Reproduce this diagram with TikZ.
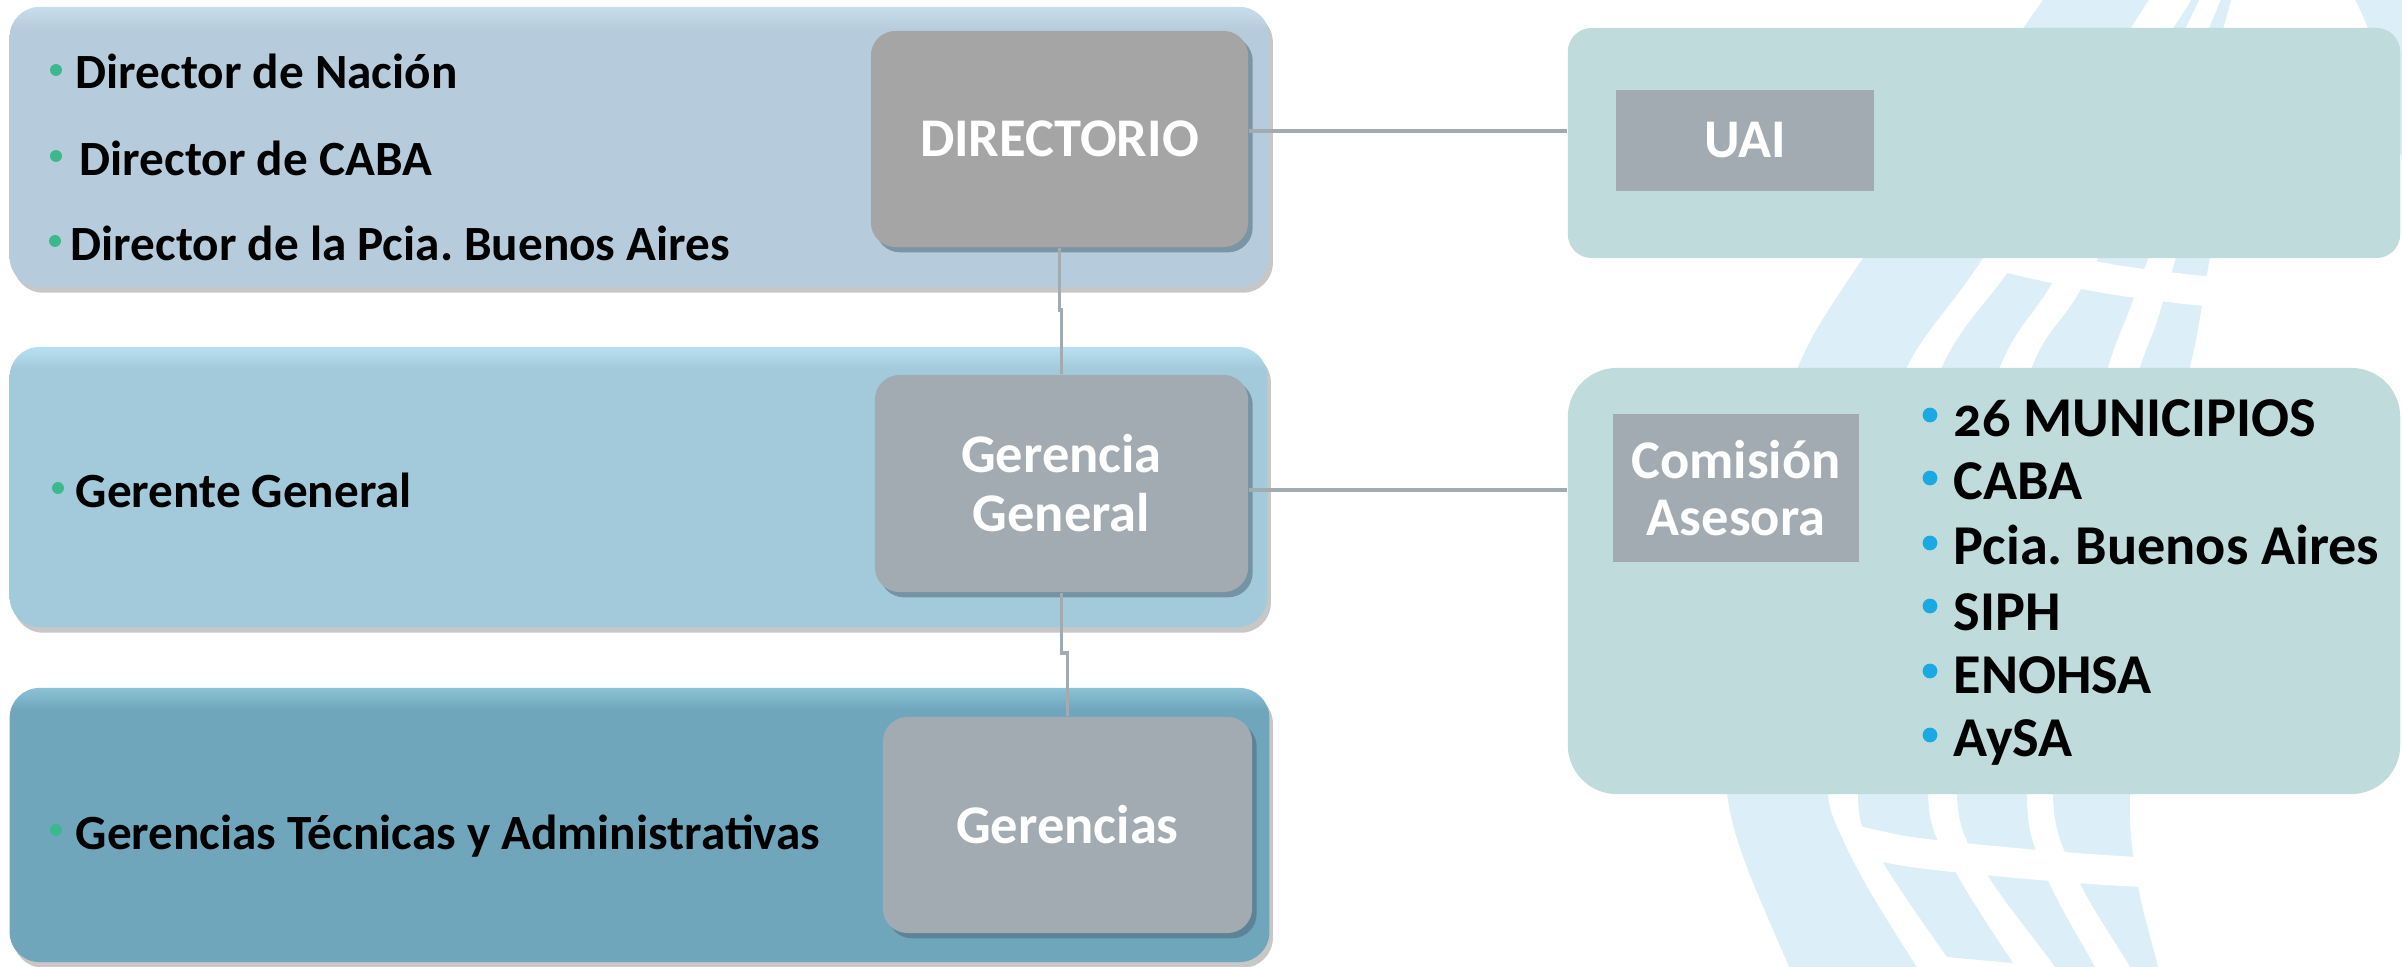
\documentclass[tikz,border=0pt]{standalone}
\usepackage{fontspec}
\setmainfont{Carlito}
\frenchspacing
\usetikzlibrary{shadows,calc}
\definecolor{bandT}{HTML}{B6CCDC}
\definecolor{bandTl}{HTML}{C8DEEC}
\definecolor{bandM}{HTML}{A3CADB}
\definecolor{bandMl}{HTML}{B8E0F0}
\definecolor{bandB}{HTML}{6FA6BC}
\definecolor{bandBl}{HTML}{8CC2D6}
\definecolor{dirc}{HTML}{A5A5A5}
\definecolor{ginner}{HTML}{A1ABB1}
\definecolor{rboxc}{HTML}{C0DBDB}
\definecolor{wmc}{HTML}{DCEEF7}
\definecolor{connc}{HTML}{A1ABB1}
\definecolor{bulg}{HTML}{3CB88F}
\definecolor{bulb}{HTML}{1BA9E3}
\definecolor{shadowc}{HTML}{4E6878}
\pgfdeclareverticalshading{shT}{100bp}{color(0bp)=(bandT); color(25bp)=(bandT); color(71bp)=(bandT); color(75bp)=(bandTl); color(100bp)=(bandTl)}
\pgfdeclareverticalshading{shM}{100bp}{color(0bp)=(bandM); color(25bp)=(bandM); color(71bp)=(bandM); color(75bp)=(bandMl); color(100bp)=(bandMl)}
\pgfdeclareverticalshading{shB}{100bp}{color(0bp)=(bandB); color(25bp)=(bandB); color(71bp)=(bandB); color(75bp)=(bandBl); color(100bp)=(bandBl)}
\tikzset{
  band/.style={rectangle, rounded corners=8.5pt, inner sep=0pt, shade, drop shadow={shadow xshift=1pt, shadow yshift=-1.6pt, opacity=0.22, fill=black}},
  inbox/.style={rectangle, rounded corners=7pt, inner sep=0pt, text=white, align=center,
    font=\fontsize{15.5}{16.8}\selectfont\bfseries,
    drop shadow={shadow xshift=1.3pt, shadow yshift=-1.5pt, opacity=0.55, fill=shadowc}},
  rbox/.style={rectangle, fill=rboxc, inner sep=0pt},
  rin/.style={rectangle, fill=ginner, inner sep=0pt, text=white, align=center,
    font=\fontsize{15.5}{16.2}\selectfont\bfseries},
  ltext/.style={anchor=base west, inner sep=0pt, font=\fontsize{14}{16}\selectfont\bfseries},
  rtext/.style={anchor=base west, inner sep=0pt, font=\fontsize{16}{18}\selectfont\bfseries},
  conn/.style={draw=connc, line width=1pt},
  wm/.style={fill=wmc},
  gapline/.style={draw=white, line width=8.5pt}
}
\begin{document}
\begin{tikzpicture}[x=0.01cm, y=-0.01cm]
\useasboundingbox (0,0) rectangle (2402,967);
\fill[white] (0,0) rectangle (2402,967);
% watermark
\begin{scope}
\clip (0,0) rectangle (2402,967);
\fill[wm] plot[smooth] coordinates {(2198,-10) (2100,140) (2008,272) (1942,367) (1880,560) (1858,795) (1883,862) (1947,957)}
  -- plot[smooth] coordinates {(2013,963) (1955,871) (1928,795) (1945,560) (2000,367) (2052,283) (2130,140) (2204,-10)} -- cycle;
\fill[wm] plot[smooth] coordinates {(2225,-10) (2160,140) (2080,291) (2032,367) (1975,560) (1957,795) (1987,874) (2055,967) (2060,985)}
  -- plot[smooth] coordinates {(2103,985) (2095,967) (2048,880) (2027,795) (2050,560) (2108,367) (2133,300) (2190,140) (2234,-10)} -- cycle;
\fill[wm] plot[smooth] coordinates {(2236,45) (2163,302) (2140,367) (2075,560) (2053,795) (2080,883) (2130,967) (2134,985)}
  -- plot[smooth] coordinates {(2160,985) (2158,967) (2138,886) (2130,795) (2145,560) (2190,367) (2202,305) (2244,45)} -- cycle;
\fill[wm] plot[smooth] coordinates {(2350,-10) (2372,40) (2402,160)} -- (2420,160) -- (2420,-10) -- cycle;
\draw[gapline] plot[smooth] coordinates {(1960,245) (2030,263) (2110,279) (2185,289) (2260,296)};
\draw[gapline] plot[smooth] coordinates {(1820,832) (1905,851) (2005,862) (2105,870) (2200,875)};
\fill[wm] plot[smooth] coordinates {(2050,-10) (1863,258) (1798,367) (1752,520) (1724,700) (1728,800) (1748,870) (1795,980)}
  -- plot[smooth] coordinates {(1925,980) (1873,897) (1843,840) (1828,795) (1830,700) (1855,520) (1907,367) (1983,258) (2155,-10)} -- cycle;
\end{scope}
% left bands
\node[band, shading=shT, minimum width=12.59cm, minimum height=2.80cm] (t1) at (639.5,147) {};
\node[band, shading=shM, minimum width=12.57cm, minimum height=2.80cm] (t2) at (638.5,487) {};
\node[band, shading=shB, minimum width=12.59cm, minimum height=2.74cm] (t3) at (639.5,825) {};
% inner boxes
\node[inbox, fill=dirc, minimum width=3.77cm, minimum height=2.16cm] (dir) at (1059.5,139) {DIRECTORIO};
\node[inbox, fill=ginner, minimum width=3.73cm, minimum height=2.17cm] (gg) at (1061.5,483.5) {Gerencia\\General};
\node[inbox, fill=ginner, minimum width=3.69cm, minimum height=2.16cm] (ger) at (1067.5,825) {Gerencias};
% right boxes
\node[rbox, rounded corners=6.8pt, minimum width=8.32cm, minimum height=2.30cm] (uaio) at (1984,143) {};
\node[rin, minimum width=2.58cm, minimum height=1.01cm] (uai) at (1745,140.5) {UAI};
\node[rbox, rounded corners=14pt, minimum width=8.32cm, minimum height=4.26cm] (como) at (1984,581) {};
\node[rin, minimum width=2.46cm, minimum height=1.48cm] (com) at (1736,488) {Comisi\'on\\Asesora};
% left texts
\fill[bulg] (56,70) circle (1.7pt);
\fill[bulg] (56,156) circle (1.7pt);
\fill[bulg] (55,241) circle (1.7pt);
\fill[bulg] (58,488) circle (1.7pt);
\fill[bulg] (56,830) circle (1.7pt);
\node[ltext] (l1) at (75,89) {Director de Naci\'on};
\node[ltext] (l2) at (79,176) {Director de CABA};
\node[ltext] (l3) at (70,261) {Director de la Pcia. Buenos Aires};
\node[ltext] (l4) at (75,508) {Gerente General};
\node[ltext] (l5) at (75,849) {Gerencias T\'ecnicas y Administrativas};
% right list
\foreach \yc in {415, 478, 543, 606, 671, 735}{
  \fill[bulb] (1930,\yc) circle (2.1pt);
}
\node[rtext] (r1) at (1953,437) {{\addfontfeature{Numbers=OldStyle}26} MUNICIPIOS};
\node[rtext] (r2) at (1953,500) {CABA};
\node[rtext] (r3) at (1953,565) {Pcia. Buenos Aires};
\node[rtext] (r4) at (1953,630) {SIPH};
\node[rtext] (r5) at (1953,693) {ENOHSA};
\node[rtext] (r6) at (1953,756) {AySA};
% connectors
\coordinate (c1) at (1400,131);
\coordinate (c2) at (1400,490);
\coordinate (c3) at (1060,310);
\coordinate (c4) at (1064,653);
\draw[conn] (dir.east |- c1) -- (uaio.west |- c1);
\draw[conn] (gg.east |- c2) -- (como.west |- c2);
\draw[conn] (dir.south) |- (c3) -| (gg.north);
\draw[conn] (gg.south) |- (c4) -| (ger.north);
\end{tikzpicture}
\end{document}
